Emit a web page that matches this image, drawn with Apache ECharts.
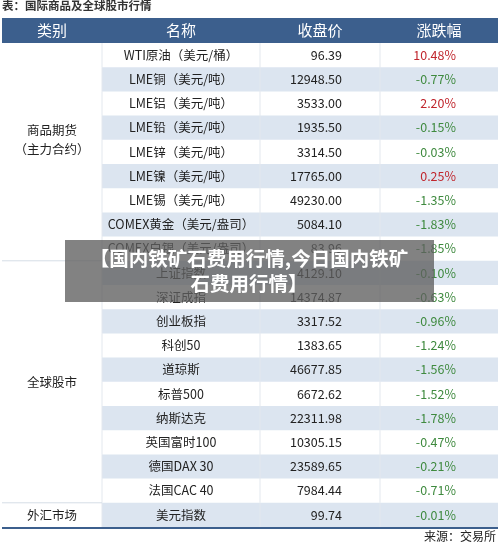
<!DOCTYPE html>
<html><head><meta charset="utf-8">
<script src="https://cdn.jsdelivr.net/npm/echarts@6/dist/echarts.min.js"></script>
<style>html,body{margin:0;padding:0;background:#fff}#c{width:500px;height:543px}</style>
</head><body><div id="c"></div>
<script>
const headers = ['类别','名称','收盘价','涨跌幅'];
const names = ['WTI原油（美元/桶）','LME铜（美元/吨）','LME铝（美元/吨）','LME铅（美元/吨）','LME锌（美元/吨）','LME镍（美元/吨）','LME锡（美元/吨）','COMEX黄金（美元/盎司）','COMEX白银（美元/盎司）','上证指数','深证成指','创业板指','科创50','道琼斯','标普500','纳斯达克','英国富时100','德国DAX 30','法国CAC 40','美元指数'];
const closes = ['96.39','12948.50','3533.00','1935.50','3314.50','17765.00','49230.00','5084.10','83.96','4129.10','14374.87','3317.52','1383.65','46677.85','6672.62','22311.98','10305.15','23589.65','7984.44','99.74'];
const changes = [10.48,-0.77,2.20,-0.15,-0.03,0.25,-1.35,-1.83,-1.85,-0.10,-0.63,-0.96,-1.24,-1.56,-1.52,-1.78,-0.47,-0.21,-0.71,-0.01];
const groups = [['商品期货\n（主力合约）',0,8],['全球股市',9,18],['外汇市场',19,19]];

const font = '"Noto Sans CJK SC", "Noto Sans", sans-serif';
const rows = names.map((n,i)=>[0,i]);
const chart = echarts.init(document.getElementById('c'));
chart.setOption({
  animation:false,
  grid:{left:0,right:0,top:43,bottom:16},
  xAxis:{type:'value',min:0,max:500,show:false},
  yAxis:{type:'category',data:names,inverse:true,show:false},
  graphic:[
    {type:'text',left:2,top:0,style:{text:'表：国际商品及全球股市行情',font:'bold 11.5px '+font,fill:'#333'}},
    {type:'rect',shape:{x:2,y:18,width:496,height:25},style:{fill:'#3c5f8d'}},
    ...[[52,headers[0]],[181,headers[1]],[320,headers[2]],[439,headers[3]]].map(([x,t])=>({type:'text',x:x,y:30.5,style:{text:t,font:'15px '+font,fill:'#fff',align:'center',verticalAlign:'middle'}})),
    {type:'text',x:496,y:536,style:{text:'来源：交易所',font:'12px '+font,fill:'#222',align:'right',verticalAlign:'middle'}},
    {type:'rect',z:100,shape:{x:65,y:240,width:369,height:62},style:{fill:'rgba(95,95,95,0.78)'}},
    {type:'text',z:101,x:249,y:271,style:{text:'【国内铁矿石费用行情,今日国内铁矿\n石费用行情】',font:'bold 19.5px '+font,lineHeight:25,fill:'#fff',align:'center',verticalAlign:'middle'}}
  ],
  series:[
    {type:'custom',data:rows,renderItem:(p,api)=>{
      const i=api.value(1);
      const y=api.coord([0,i])[1]; const h=api.size([0,1])[1];
      const top=y-h/2;
      const X=v=>api.coord([v,i])[0];
      const ch=[];
      if(i%2===1) ch.push({type:'rect',shape:{x:X(102),y:top,width:X(498)-X(102),height:h},style:{fill:'#dce5f0'}});
      [102,260,380].forEach(v=>ch.push({type:'line',shape:{x1:X(v),y1:top,x2:X(v),y2:top+h},style:{stroke:'#e3e8ee',lineWidth:1}}));
      const c=changes[i];
      ch.push({type:'text',x:X(181),y:y,style:{text:names[i],font:'12.5px '+font,fill:'#222',align:'center',verticalAlign:'middle'}});
      ch.push({type:'text',x:X(342),y:y,style:{text:closes[i],font:'12.5px '+font,fill:'#222',align:'right',verticalAlign:'middle'}});
      ch.push({type:'text',x:X(456),y:y,style:{text:c.toFixed(2)+'%',font:'12.5px '+font,fill:c>0?'#c0262d':'#3f8a3f',align:'right',verticalAlign:'middle'}});
      return {type:'group',children:ch};
    }},
    {type:'custom',data:groups.map(g=>[g[1],g[2]]),renderItem:(p,api)=>{
      const g=groups[p.dataIndex];
      const h=api.size([0,1])[1];
      const y1=api.coord([0,g[1]])[1]-h/2, y2=api.coord([0,g[2]])[1]+h/2;
      const off = p.dataIndex===0 ? -12 : 0;
      const ch=[{type:'text',x:api.coord([52,0])[0],y:(y1+y2)/2+off,style:{text:g[0],font:'12.5px '+font,lineHeight:19,fill:'#222',align:'center',verticalAlign:'middle'}}];
      if(g[2]<names.length-1) ch.push({type:'line',shape:{x1:2,y1:y2,x2:api.coord([102,0])[0],y2:y2},style:{stroke:'#d5dde6',lineWidth:1}});
      else ch.push({type:'line',shape:{x1:2,y1:y2+1,x2:498,y2:y2+1},style:{stroke:'#3c5f8d',lineWidth:2}});
      return {type:'group',children:ch};
    }}
  ]
});
</script></body></html>
